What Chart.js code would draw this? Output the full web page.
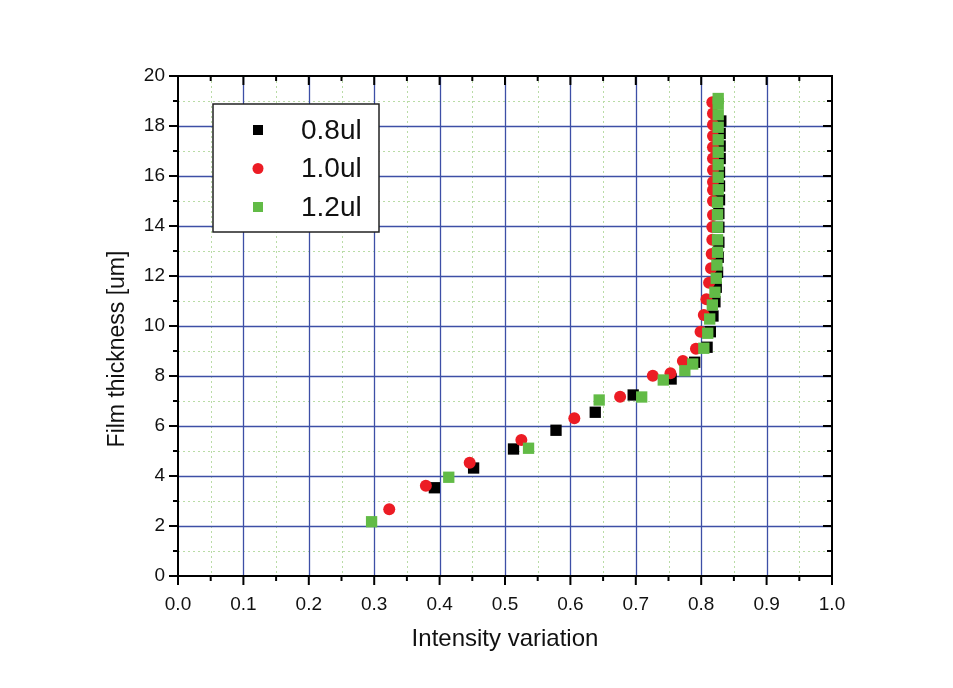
<!DOCTYPE html>
<html>
<head>
<meta charset="utf-8">
<script src="https://cdn.jsdelivr.net/npm/chart.js@4"></script>
<style>
  body { margin: 0; background: #fff; }
  #wrap { width: 953px; height: 688px; }
</style>
</head>
<body>
<div id="wrap"><canvas id="filmChart" width="953" height="688"></canvas></div>
<script>
// Series labels
const seriesNames = ["0.8ul", "1.0ul", "1.2ul"];

// 0.8ul: intensity variation (x) / film thickness in um (y)
const x08 = [0.392, 0.452, 0.513, 0.578, 0.638, 0.696, 0.754, 0.790, 0.809, 0.814, 0.818, 0.821, 0.823, 0.825, 0.826, 0.827, 0.827, 0.827, 0.828, 0.828, 0.828, 0.829, 0.829, 0.829, 0.830];
const y08 = [3.53, 4.32, 5.08, 5.83, 6.55, 7.24, 7.88, 8.55, 9.15, 9.77, 10.40, 10.97, 11.55, 12.15, 12.75, 13.35, 13.95, 14.50, 15.05, 15.60, 16.15, 16.70, 17.20, 17.70, 18.20];

// 1.0ul
const x10 = [0.323, 0.379, 0.446, 0.525, 0.606, 0.676, 0.726, 0.753, 0.772, 0.792, 0.799, 0.804, 0.808, 0.812, 0.815, 0.816, 0.817, 0.817, 0.818, 0.818, 0.818, 0.818, 0.818, 0.818, 0.818, 0.818, 0.818, 0.818, 0.817];
const y10 = [2.67, 3.61, 4.53, 5.44, 6.31, 7.17, 8.01, 8.11, 8.60, 9.09, 9.77, 10.44, 11.07, 11.73, 12.31, 12.88, 13.45, 13.96, 14.44, 15.00, 15.44, 15.76, 16.24, 16.70, 17.15, 17.60, 18.05, 18.50, 18.95];

// 1.2ul
const x12 = [0.296, 0.414, 0.536, 0.644, 0.709, 0.742, 0.775, 0.787, 0.804, 0.810, 0.813, 0.817, 0.821, 0.823, 0.824, 0.825, 0.825, 0.825, 0.825, 0.825, 0.826, 0.826, 0.826, 0.826, 0.826, 0.826, 0.826, 0.826, 0.826];
const y12 = [2.17, 3.95, 5.11, 7.04, 7.16, 7.84, 8.21, 8.48, 9.11, 9.71, 10.28, 10.84, 11.35, 11.91, 12.44, 12.95, 13.45, 13.95, 14.45, 14.95, 15.45, 15.95, 16.45, 16.95, 17.45, 17.95, 18.45, 18.90, 19.10];

// Axis tick labels
const xTicks = [0, 0.1, 0.2, 0.3, 0.4, 0.5, 0.6, 0.7, 0.8, 0.9, 1.0];
const yTicks = [0, 2, 4, 6, 8, 10, 12, 14, 16, 18, 20];

const FONT = "'Liberation Sans', Arial, sans-serif";
const GRID_BLUE = "#3d4fa6";
const GRID_MINOR = "#b9dca6";

function toPoints(xs, ys) {
  return xs.map((v, i) => ({ x: v, y: ys[i] }));
}

// Grid, frame and tick marks (inward on top/right, outward on left/bottom)
const framePlugin = {
  id: "frame",
  beforeDatasetsDraw(chart) {
    const { ctx, chartArea: a, scales: { x, y } } = chart;
    const xMinor = xTicks.slice(1).map((v, i) => (v + xTicks[i]) / 2);
    const yMinor = yTicks.slice(1).map((v, i) => (v + yTicks[i]) / 2);
    const px = (v) => Math.round(x.getPixelForValue(v)) + 0.5;
    const py = (v) => Math.round(y.getPixelForValue(v)) + 0.5;
    const line = (x1, y1, x2, y2) => { ctx.beginPath(); ctx.moveTo(x1, y1); ctx.lineTo(x2, y2); ctx.stroke(); };

    ctx.save();
    // minor dotted grid
    ctx.strokeStyle = GRID_MINOR;
    ctx.lineWidth = 1;
    ctx.setLineDash([2, 3]);
    xMinor.forEach((v) => line(px(v), a.top, px(v), a.bottom));
    yMinor.forEach((v) => line(a.left, py(v), a.right, py(v)));
    // major grid
    ctx.setLineDash([]);
    ctx.strokeStyle = GRID_BLUE;
    ctx.lineWidth = 1.3;
    xTicks.slice(1, -1).forEach((v) => line(px(v), a.top, px(v), a.bottom));
    yTicks.slice(1, -1).forEach((v) => line(a.left, py(v), a.right, py(v)));
    ctx.restore();
  },
  afterDatasetsDraw(chart) {
    const { ctx, chartArea: a, scales: { x, y } } = chart;
    const xMinor = xTicks.slice(1).map((v, i) => (v + xTicks[i]) / 2);
    const yMinor = yTicks.slice(1).map((v, i) => (v + yTicks[i]) / 2);
    const line = (x1, y1, x2, y2) => { ctx.beginPath(); ctx.moveTo(x1, y1); ctx.lineTo(x2, y2); ctx.stroke(); };
    ctx.save();
    ctx.strokeStyle = "#000";
    ctx.lineWidth = 2;
    ctx.strokeRect(a.left, a.top, a.right - a.left, a.bottom - a.top);
    const tick = (len, xs, ys) => {
      xs.forEach((v) => {
        const p = x.getPixelForValue(v);
        line(p, a.bottom, p, a.bottom + len);
        line(p, a.top, p, a.top + len);
      });
      ys.forEach((v) => {
        const p = y.getPixelForValue(v);
        line(a.left, p, a.left - len, p);
        line(a.right, p, a.right - len, p);
      });
    };
    tick(9, xTicks, yTicks);
    tick(5, xMinor, yMinor);

    // axis titles
    ctx.fillStyle = "#111";
    ctx.textAlign = "center";
    ctx.textBaseline = "middle";
    ctx.font = "24px " + FONT;
    ctx.fillText("Intensity variation", (a.left + a.right) / 2, 639);
    ctx.font = "23px " + FONT;
    ctx.translate(118, 349);
    ctx.rotate(-Math.PI / 2);
    ctx.fillText("Film thickness [um]", 0, 0);
    ctx.restore();
  }
};

// Boxed legend inside the plot area, top left
const legendBox = {
  id: "legendBox",
  afterDraw(chart) {
    const { ctx } = chart;
    const bx = 213, by = 104, bw = 166, bh = 128;
    ctx.save();
    ctx.fillStyle = "#fff";
    ctx.fillRect(bx, by, bw, bh);
    ctx.strokeStyle = "#222";
    ctx.lineWidth = 1.5;
    ctx.strokeRect(bx, by, bw, bh);
    ctx.font = "28px " + FONT;
    ctx.textBaseline = "middle";
    ctx.textAlign = "left";
    chart.data.datasets.forEach((ds, i) => {
      const cy = 130 + i * 38.5;
      ctx.fillStyle = ds.backgroundColor;
      if (ds.pointStyle === "circle") {
        ctx.beginPath();
        ctx.arc(258, cy, 5.5, 0, Math.PI * 2);
        ctx.fill();
      } else {
        ctx.fillRect(253, cy - 5, 10, 10);
      }
      ctx.fillStyle = "#111";
      ctx.fillText(ds.label, 301, cy + 1);
    });
    ctx.restore();
  }
};

const ctx = document.getElementById("filmChart").getContext("2d");
new Chart(ctx, {
  type: "scatter",
  data: {
    datasets: [
      {
        label: seriesNames[0],
        data: toPoints(x08, y08),
        pointStyle: "rect",
        backgroundColor: "#000000",
        borderColor: "#000000",
        pointRadius: 8,
        borderWidth: 0,
        order: 3,
      },
      {
        label: seriesNames[1],
        data: toPoints(x10, y10),
        pointStyle: "circle",
        backgroundColor: "#ec1c24",
        borderColor: "#ec1c24",
        pointRadius: 6,
        borderWidth: 0,
        order: 2,
      },
      {
        label: seriesNames[2],
        data: toPoints(x12, y12),
        pointStyle: "rect",
        backgroundColor: "#62bb46",
        borderColor: "#62bb46",
        pointRadius: 8,
        borderWidth: 0,
        order: 1,
      },
    ],
  },
  options: {
    responsive: false,
    animation: false,
    layout: { padding: { left: 101, right: 121, top: 76, bottom: 33 } },
    plugins: {
      legend: { display: false },
      tooltip: { enabled: false },
    },
    scales: {
      x: {
        type: "linear",
        min: 0,
        max: 1,
        grid: { display: false, drawTicks: true, tickLength: 9 },
        border: { display: false },
        afterFit: (scale) => { scale.height = 79; },
        afterBuildTicks: (scale) => { scale.ticks = xTicks.map((v) => ({ value: v })); },
        ticks: {
          padding: 8,
          color: "#111",
          font: { family: FONT, size: 19 },
          maxRotation: 0,
          autoSkip: false,
          callback: (v) => Number(v).toFixed(1),
        },
      },
      y: {
        type: "linear",
        min: 0,
        max: 20,
        grid: { display: false, drawTicks: true, tickLength: 9 },
        border: { display: false },
        afterFit: (scale) => { scale.width = 77; },
        afterBuildTicks: (scale) => { scale.ticks = yTicks.map((v) => ({ value: v })); },
        ticks: {
          padding: 4,
          color: "#111",
          font: { family: FONT, size: 19 },
          autoSkip: false,
          callback: (v) => String(v),
        },
      },
    },
  },
  plugins: [framePlugin, legendBox],
});
</script>
</body>
</html>
